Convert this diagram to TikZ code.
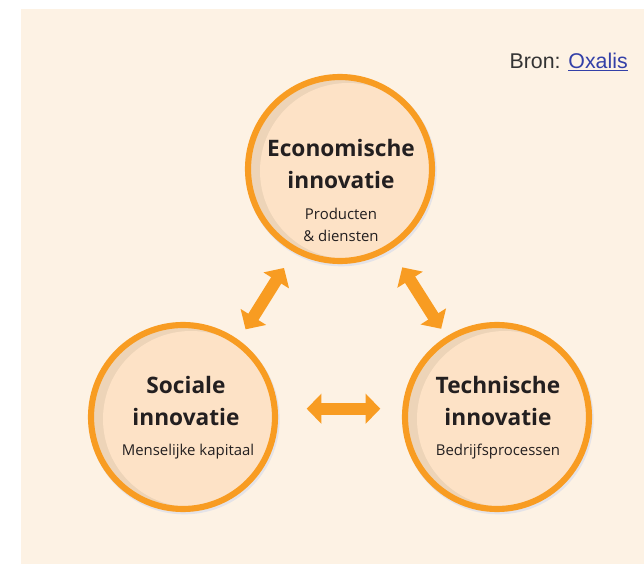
\documentclass[tikz,border=0pt]{standalone}
\usepackage{fontspec}
\setmainfont{Liberation Sans}
\newfontfamily\bubblefont{Open Sans}
\usetikzlibrary{arrows.meta,backgrounds}

\definecolor{panel}{HTML}{FDF2E4}
\definecolor{ringorange}{HTML}{F89C22}
\definecolor{discpeach}{HTML}{FDE2C6}
\definecolor{discshade}{HTML}{EDD4B8}
\definecolor{haze}{HTML}{E4E3E8}
\definecolor{srcgray}{HTML}{333333}
\definecolor{linkblue}{HTML}{3340A8}
\definecolor{inktext}{HTML}{231F20}

\tikzset{
  bubble/.style={circle, draw=ringorange, line width=4.6pt, minimum size=138pt, inner sep=0pt,
    path picture={
      \fill[discshade] (path picture bounding box.south west) rectangle (path picture bounding box.north east);
      \fill[discpeach] ([xshift=6pt,yshift=-1.5pt]path picture bounding box.center) circle (66pt);}},
  bubbletitle/.style={font=\bubblefont\bfseries\fontsize{17}{24}\selectfont, text=inktext, align=center},
  bubblesub/.style={font=\bubblefont\fontsize{11.2}{16.5}\selectfont, text=inktext, align=center},
  biarrow/.style={draw=ringorange, line width=9pt,
    arrows={Triangle[width=22pt,length=11pt]-Triangle[width=22pt,length=11pt]}}
}

\begin{document}
\begin{tikzpicture}[x=0.75pt,y=-0.75pt]
  \useasboundingbox (0,0) rectangle (644,564);

  % the three circles ----------------------------------------------------------
  \node[bubble] (eco)  at (340,169) {};
  \node[bubble] (soc)  at (183,417) {};
  \node[bubble] (tech) at (497,417) {};

  % panel and soft shadows behind the circles
  \begin{scope}[on background layer]
    \fill[panel] (21,9) rectangle (644,564);
    \fill[haze] ([xshift=1pt,yshift=-1.5pt]eco.center)  circle (71.5pt);
    \fill[haze] ([xshift=1pt,yshift=-1.5pt]soc.center)  circle (71.5pt);
    \fill[haze] ([xshift=1pt,yshift=-1.5pt]tech.center) circle (71.5pt);
  \end{scope}

  % texts in the circles -------------------------------------------------------
  \node[bubbletitle] (ecotitle)  at (341,164) {Economische\\innovatie};
  \node[bubblesub]   (ecosub)    at (341,225) {Producten\\\& diensten};

  \node[bubbletitle] (soctitle)  at (186,401) {Sociale\\innovatie};
  \node[bubblesub]   (socsub)    at (188,452) {Menselijke kapitaal};

  \node[bubbletitle] (techtitle) at (498,401) {Technische\\innovatie};
  \node[bubblesub]   (techsub)   at (498,452) {Bedrijfsprocessen};

  % double arrows between the circles ------------------------------------------
  \draw[biarrow, shorten <=14pt, shorten >=9.5pt] (eco.241) -- (soc.54);
  \draw[biarrow, shorten <=16pt, shorten >=7pt]   (eco) -- (tech);
  \draw[biarrow, shorten <=21.75pt, shorten >=16.5pt] (soc.5) -- (tech.175);

  % source line ----------------------------------------------------------------
  \node[anchor=base east, inner sep=0pt, font=\fontsize{16}{18}\selectfont, text=srcgray] (bron)
        at (628,68) {Bron: \textcolor{linkblue}{\underline{Oxalis}}};
\end{tikzpicture}
\end{document}
